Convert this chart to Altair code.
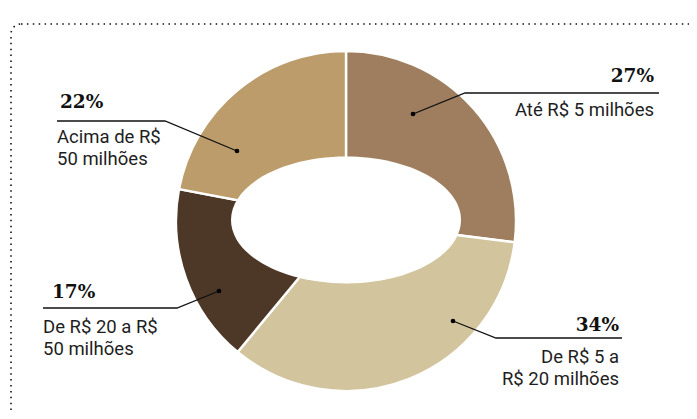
import altair as alt
import pandas as pd

# ---- data ----
categories = ["Até R$ 5 milhões", "De R$ 5 a R$ 20 milhões", "De R$ 20 a R$ 50 milhões", "Acima de R$ 50 milhões"]
values = [27, 34, 17, 22]
label_text = ["Até R$ 5 milhões", "De R$ 5 a\nR$ 20 milhões", "De R$ 20 a R$\n50 milhões", "Acima de R$\n50 milhões"]
colors = ["#9E7E5E", "#D2C49C", "#4D3727", "#BC9C6A"]

# ---- layout (pixel positions in chart coordinates) ----
W, H = 681, 403
CX, CY, R = 338, 213, 170
ELL_W, ELL_RATIO = 230, 0.552
side = ["right", "right", "left", "left"]
dot_xy = [(405, 106), (445, 313), (211, 283), (229, 143)]
elbow_xy = [(457, 85), (488, 330), (169, 300), (157, 113)]
end_xy = [(651, 85), (614, 330), (35, 300), (49, 113)]
pct_xy = [(646, 74), (611, 323), (44, 290), (52, 100)]
lab_xy = [(646, 108), (611, 355), (35, 325), (49, 135)]

pie = pd.DataFrame({"cat": categories, "value": values, "idx": range(len(values))})

line_rows = []
for i, c in enumerate(categories):
    for s, p in enumerate([dot_xy[i], elbow_xy[i], end_xy[i]]):
        line_rows.append({"cat": c, "seq": s, "x": p[0], "y": p[1]})
lines = pd.DataFrame(line_rows)
dots = pd.DataFrame({"cat": categories, "x": [p[0] for p in dot_xy], "y": [p[1] for p in dot_xy]})
texts = pd.DataFrame({
    "pct": [f"{v}%" for v in values],
    "lab": label_text,
    "side": side,
    "px": [p[0] for p in pct_xy], "py": [p[1] for p in pct_xy],
    "lx": [p[0] for p in lab_xy], "ly": [p[1] for p in lab_xy],
})

xs = alt.Scale(domain=[0, W], range=[0, W])
ys = alt.Scale(domain=[0, H], range=[0, H])

border = alt.Chart(pd.DataFrame({"a": [0]})).mark_rect(
    fill="transparent", stroke="#111", strokeWidth=1.6, strokeDash=[1.5, 4.4],
    cornerRadiusTopLeft=10
).encode(x=alt.value(3), x2=alt.value(800), y=alt.value(16), y2=alt.value(600))

arcs = alt.Chart(pie).mark_arc(outerRadius=R, stroke="white", strokeWidth=2.4).encode(
    theta=alt.Theta("value:Q", stack=True),
    order=alt.Order("idx:Q"),
    color=alt.Color("cat:N", scale=alt.Scale(domain=categories, range=colors), legend=None),
    x=alt.value(CX), y=alt.value(CY),
)

k = 0.5523
ry = ELL_RATIO
ell_path = (f"M -1 0 C -1 {-ry*k:.4f} {-k:.4f} {-ry:.4f} 0 {-ry:.4f} "
            f"C {k:.4f} {-ry:.4f} 1 {-ry*k:.4f} 1 0 "
            f"C 1 {ry*k:.4f} {k:.4f} {ry:.4f} 0 {ry:.4f} "
            f"C {-k:.4f} {ry:.4f} -1 {ry*k:.4f} -1 0 Z")
hole = alt.Chart(pd.DataFrame({"a": [0]})).mark_point(
    shape=ell_path, filled=True, fill="white", opacity=1, strokeWidth=0
).encode(x=alt.value(CX), y=alt.value(CY - 1), size=alt.value(ELL_W * ELL_W))

leader = alt.Chart(lines).mark_line(color="#111", strokeWidth=1.3).encode(
    x=alt.X("x:Q", scale=xs, axis=None),
    y=alt.Y("y:Q", scale=ys, axis=None),
    detail="cat:N",
    order="seq:Q",
)
dot_l = alt.Chart(dots).mark_circle(color="#000", size=22, opacity=1).encode(
    x=alt.X("x:Q", scale=xs, axis=None), y=alt.Y("y:Q", scale=ys, axis=None)
)

layers = [border, arcs, hole, leader, dot_l]
for s in ["left", "right"]:
    sub = texts[texts.side == s]
    layers.append(alt.Chart(sub).mark_text(
        align=s, baseline="alphabetic", font="DejaVu Serif", fontWeight="bold", fontSize=18.5, color="#111"
    ).encode(x=alt.X("px:Q", scale=xs, axis=None), y=alt.Y("py:Q", scale=ys, axis=None), text="pct:N"))
    layers.append(alt.Chart(sub).mark_text(
        align=s, baseline="alphabetic", font="Roboto", fontSize=18.5, color="#1e1e1e", lineBreak="\n", lineHeight=21.5
    ).encode(x=alt.X("lx:Q", scale=xs, axis=None), y=alt.Y("ly:Q", scale=ys, axis=None), text="lab:N"))

chart = alt.layer(*layers).properties(
    width=W, height=H, padding=0, autosize=alt.AutoSizeParams(type="none")
).configure_view(stroke=None)

chart.save("out.html", embed_options={"renderer": "svg", "actions": False})
